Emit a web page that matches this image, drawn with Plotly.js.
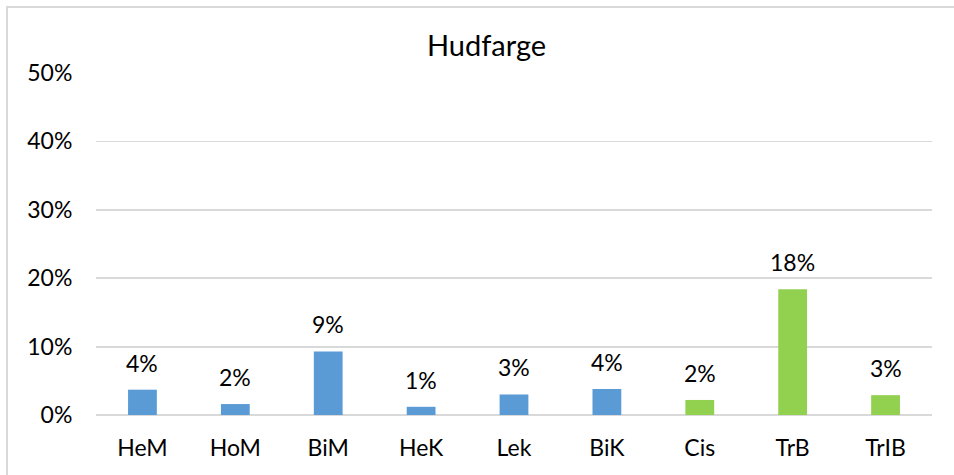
<!DOCTYPE html>
<html>
<head>
<meta charset="utf-8">
<script src="https://cdn.plot.ly/plotly-3.0.1.min.js"></script>
<style>
  html, body { margin: 0; padding: 0; background: #fff; }
  #wrap { position: relative; width: 954px; height: 475px; overflow: hidden; }
  #frame { position: absolute; left: 6px; top: 6px; width: 1000px; height: 1000px;
           border-left: 2px solid #d9d9d9; border-top: 2px solid #d9d9d9; box-sizing: border-box; pointer-events: none; }
  #chart { position: absolute; left: 0; top: 0; width: 954px; height: 475px; }
</style>
</head>
<body>
<div id="wrap">
  <div id="chart"></div>
  <div id="frame"></div>
</div>
<script>
const categories = ["HeM", "HoM", "BiM", "HeK", "Lek", "BiK", "Cis", "TrB", "TrIB"];
const values = [0.037, 0.016, 0.093, 0.012, 0.030, 0.038, 0.022, 0.184, 0.029];
const barColors = ["#5B9BD5", "#5B9BD5", "#5B9BD5", "#5B9BD5", "#5B9BD5", "#5B9BD5", "#92D050", "#92D050", "#92D050"];
const yTickValues = [0, 0.1, 0.2, 0.3, 0.4, 0.5];
const yTickLabels = ["0%", "10%", "20%", "30%", "40%", "50%"];
const chartTitle = "Hudfarge";

const FONT = "Lato, 'Open Sans', sans-serif";

const trace = {
  type: "bar",
  x: categories,
  y: values,
  marker: { color: barColors, line: { width: 0 } },
  hoverinfo: "skip"
};

const annotations = categories.map((c, i) => ({
  x: c, y: values[i], xref: "x", yref: "y",
  text: Math.round(values[i] * 100) + "%",
  showarrow: false, yanchor: "bottom", yshift: 11,
  font: { family: FONT, size: 23, color: "#000" }
}));

const layout = {
  width: 954, height: 475,
  margin: { l: 96, r: 22, t: 73, b: 60, pad: 0 },
  paper_bgcolor: "#fff", plot_bgcolor: "#fff",
  bargap: 0.69,
  showlegend: false,
  title: { text: chartTitle, x: 486.5 / 954, xanchor: "center", y: 1 - 46 / 475, yanchor: "middle",
           font: { family: FONT, size: 29, color: "#000" } },
  xaxis: {
    type: "category",
    showgrid: false, zeroline: false, showline: false,
    ticks: "outside", ticklen: 12, tickcolor: "rgba(0,0,0,0)",
    tickfont: { family: FONT, size: 23, color: "#000" }
  },
  yaxis: {
    range: [0, 0.5],
    tickvals: yTickValues, ticktext: yTickLabels,
    showgrid: true, gridcolor: "#d9d9d9", gridwidth: 1.8,
    zeroline: true, zerolinecolor: "#d9d9d9", zerolinewidth: 1.8,
    showline: false,
    ticks: "outside", ticklen: 18, tickcolor: "rgba(0,0,0,0)",
    tickfont: { family: FONT, size: 23, color: "#000" }
  },
  annotations: annotations
};

Plotly.newPlot("chart", [trace], layout, { staticPlot: true, displayModeBar: false });
</script>
</body>
</html>
